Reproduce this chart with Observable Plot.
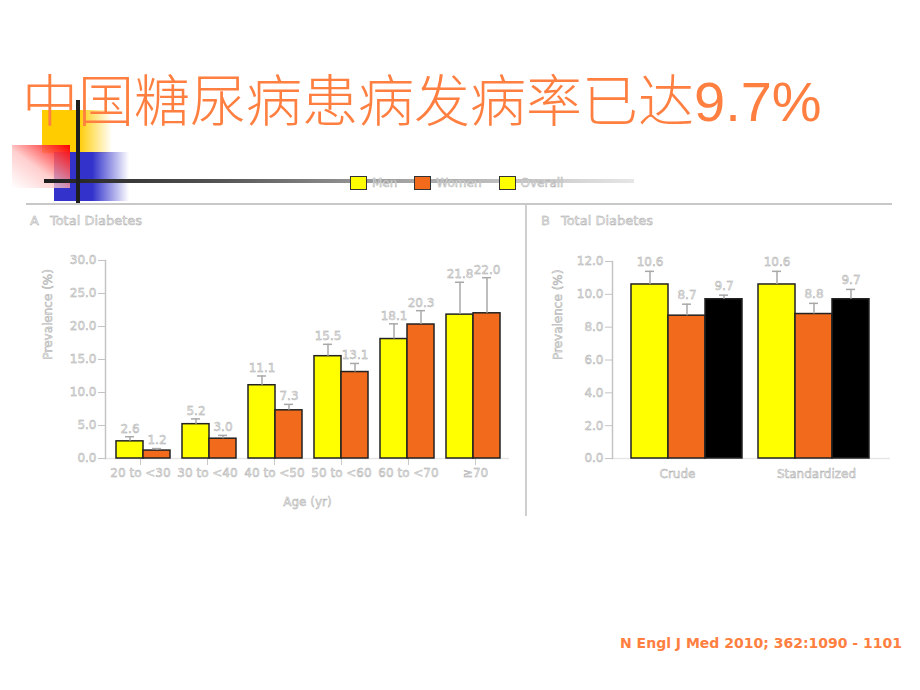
<!DOCTYPE html>
<html><head><meta charset="utf-8">
<script src="https://cdn.jsdelivr.net/npm/d3@7"></script>
<script src="https://cdn.jsdelivr.net/npm/@observablehq/plot@0.6"></script>
<style>
body{margin:0;background:#fff;}
#slide{position:relative;width:920px;height:690px;overflow:hidden;font-family:"DejaVu Sans",Verdana,sans-serif;}
.abs{position:absolute;}
.panel{position:absolute;}
.panel text{fill:#ececec;stroke:#a9a9a9;stroke-width:0.45px;}
.ghost{color:#ececec;-webkit-text-stroke:0.45px #a9a9a9;}
#title{position:absolute;left:22px;top:74px;font-size:56px;line-height:1;white-space:nowrap;color:#FF7F41;font-family:"Liberation Sans","Noto Sans CJK SC",sans-serif;font-weight:300;}
#cite{position:absolute;right:18px;top:635px;font-size:14px;font-weight:bold;color:#FF7F41;font-family:"DejaVu Sans",sans-serif;white-space:nowrap;}
#legend{position:absolute;left:350px;top:176px;display:flex;align-items:center;font-size:12px;}
#legend .item{display:flex;align-items:center;margin-right:17px;}
#legend .sw{width:15px;height:12px;border:1.5px solid #333;margin-right:5px;}
.ptitle{position:absolute;font-size:13px;line-height:16px;white-space:nowrap;}
</style></head>
<body>
<div id="slide">
  <div class="abs" style="left:42px;top:110px;width:70px;height:43px;background:linear-gradient(to right,#FFCC00 0%,#FFCC00 52%,rgba(255,255,255,0) 100%);"></div>
  <div class="abs" style="left:54px;top:152px;width:75px;height:49px;background:linear-gradient(to right,#3333CC 0%,#3333CC 51%,rgba(255,255,255,0) 100%);"></div>
  <div class="abs" style="left:12px;top:145px;width:58px;height:43px;background:linear-gradient(to bottom left,#FF0000 0%,rgba(255,190,190,0.75) 55%,rgba(255,255,255,0.9) 100%);"></div>
  <div class="abs" style="left:44px;top:179px;width:590px;height:4px;background:linear-gradient(to right,#1e1e1e 0%,#555 30%,#999 55%,#e6e6e6 100%);"></div>
  <div class="abs" style="left:76px;top:100px;width:4px;height:105px;background:#1e1e1e;"></div>
  <div class="abs" style="left:26px;top:203px;width:866px;height:2px;background:#c8c8c8;"></div>
  <div class="abs" style="left:525px;top:205px;width:2px;height:311px;background:#cfcfcf;"></div>
  <div id="title">中国糖尿病患病发病率已达9.7%</div>
  <div id="legend"></div>
  <div class="ptitle ghost" style="left:30px;top:213px;">A<span style="margin-left:11px">Total Diabetes</span></div>
  <div class="ptitle ghost" style="left:541px;top:213px;">B<span style="margin-left:11px">Total Diabetes</span></div>
  <div id="panelA"></div>
  <div id="panelB"></div>
  <div id="cite">N Engl J Med 2010; 362:1090 - 1101</div>
</div>
<script>
// ---- data ----
const ageGroups = ["20 to <30", "30 to <40", "40 to <50", "50 to <60", "60 to <70", "≥70"];
const menA = [2.6, 5.2, 11.1, 15.5, 18.1, 21.8];
const womenA = [1.2, 3.0, 7.3, 13.1, 20.3, 22.0];
const menAUpper = [3.3, 6.0, 12.5, 17.3, 20.4, 26.7];
const womenAUpper = [1.5, 3.5, 8.2, 14.4, 22.4, 27.4];
const rateTypes = ["Crude", "Standardized"];
const menB = [10.6, 10.6];
const womenB = [8.7, 8.8];
const overallB = [9.7, 9.7];
const menBUpper = [11.4, 11.4];
const womenBUpper = [9.4, 9.45];
const overallBUpper = [9.95, 10.3];
const seriesNames = ["Men", "Women", "Overall"];
const seriesColors = ["#FFFF00", "#F26A1B", "#000000"];
const legendColors = ["#FFFF00", "#F26A1B", "#FFFF00"];
const yTicksA = [0, 5, 10, 15, 20, 25, 30];
const yTicksB = [0, 2, 4, 6, 8, 10, 12];
const yLabel = "Prevalence (%)";
const xLabelA = "Age (yr)";

// legend
const leg = document.getElementById("legend");
seriesNames.forEach((s, i) => {
  const it = document.createElement("div"); it.className = "item";
  const sw = document.createElement("div"); sw.className = "sw"; sw.style.background = legendColors[i];
  const t = document.createElement("span"); t.className = "ghost"; t.textContent = s;
  it.appendChild(sw); it.appendChild(t); leg.appendChild(it);
});

const fmt = d => d.toFixed(1);
const baseStyle = {background: "transparent", fontFamily: "DejaVu Sans, sans-serif", fontSize: "12px", overflow: "visible"};

// ---- Panel A ----
const rowsA = ageGroups.flatMap((g, i) => [
  {group: g, series: "Men", value: menA[i], upper: menAUpper[i]},
  {group: g, series: "Women", value: womenA[i], upper: womenAUpper[i]}
]);
const dimA = {width: 520, height: 320, marginLeft: 105, marginRight: 11, marginTop: 60, marginBottom: 62};
const bandA = {paddingInner: 0.167, paddingOuter: 0.1};
const axesA = Plot.plot({
  ...dimA, style: baseStyle,
  x: {domain: ageGroups, ...bandA, axis: null},
  y: {domain: [0, 30], axis: null},
  marks: [
    Plot.ruleY([0], {stroke: "#e6e6e6", strokeWidth: 1.5}),
    Plot.frame({anchor: "left", stroke: "#c4c4c4", strokeWidth: 1.5}),
    Plot.axisY({ticks: yTicksA, tickFormat: fmt, tickSize: 7, tickPadding: 2, stroke: "#c4c4c4", label: null}),
    Plot.axisX({tickSize: 7, tickPadding: 3, stroke: "#c8c8c8", label: null}),
    Plot.text([yLabel], {frameAnchor: "left", rotate: -90, dx: -57, text: d => d}),
    Plot.text([xLabelA], {frameAnchor: "bottom", dy: 47, text: d => d})
  ]
});
const barsA = Plot.plot({
  ...dimA, style: baseStyle,
  fx: {domain: ageGroups, ...bandA, axis: null, label: null},
  x: {domain: ["Men", "Women"], padding: 0, axis: null},
  y: {domain: [0, 30], axis: null},
  color: {domain: seriesNames, range: seriesColors},
  marks: [
    Plot.barY(rowsA, {fx: "group", x: "series", y: "value", fill: "series", stroke: "#222", strokeWidth: 1.5}),
    Plot.ruleX(rowsA, {fx: "group", x: "series", y1: "value", y2: "upper", stroke: "#a8a8a8", strokeWidth: 1.5}),
    Plot.tickY(rowsA, {fx: "group", x: "series", y: "upper", stroke: "#a8a8a8", strokeWidth: 1.5, insetLeft: 9, insetRight: 9}),
    Plot.text(rowsA, {fx: "group", x: "series", y: "upper", text: d => fmt(d.value), dy: -8})
  ]
});
const pA = document.getElementById("panelA");
[axesA, barsA].forEach(svg => {
  const w = document.createElement("div"); w.className = "panel"; w.style.left = "0px"; w.style.top = "200px";
  w.appendChild(svg); pA.appendChild(w);
});

// ---- Panel B ----
const rowsB = rateTypes.flatMap((g, i) => [
  {group: g, series: "Men", value: menB[i], upper: menBUpper[i]},
  {group: g, series: "Women", value: womenB[i], upper: womenBUpper[i]},
  {group: g, series: "Overall", value: overallB[i], upper: overallBUpper[i]}
]);
const dimB = {width: 393, height: 320, marginLeft: 85, marginRight: 30, marginTop: 61, marginBottom: 62};
const bandB = {paddingInner: 0.123, paddingOuter: 0.15, align: 0.47};
const axesB = Plot.plot({
  ...dimB, style: baseStyle,
  x: {domain: rateTypes, ...bandB, axis: null},
  y: {domain: [0, 12], axis: null},
  marks: [
    Plot.ruleY([0], {stroke: "#e6e6e6", strokeWidth: 1.5}),
    Plot.frame({anchor: "left", stroke: "#c4c4c4", strokeWidth: 1.5}),
    Plot.axisY({ticks: yTicksB, tickFormat: fmt, tickSize: 7, tickPadding: 2, stroke: "#c4c4c4", label: null}),
    Plot.axisX({tickSize: 0, tickPadding: 11, label: null}),
    Plot.text([yLabel], {frameAnchor: "left", rotate: -90, dx: -54, text: d => d})
  ]
});
const barsB = Plot.plot({
  ...dimB, style: baseStyle,
  fx: {domain: rateTypes, ...bandB, axis: null, label: null},
  x: {domain: seriesNames, padding: 0, axis: null},
  y: {domain: [0, 12], axis: null},
  color: {domain: seriesNames, range: seriesColors},
  marks: [
    Plot.barY(rowsB, {fx: "group", x: "series", y: "value", fill: "series", stroke: "#222", strokeWidth: 1.5}),
    Plot.ruleX(rowsB, {fx: "group", x: "series", y1: "value", y2: "upper", stroke: "#a8a8a8", strokeWidth: 1.5}),
    Plot.tickY(rowsB, {fx: "group", x: "series", y: "upper", stroke: "#a8a8a8", strokeWidth: 1.5, insetLeft: 14, insetRight: 14}),
    Plot.text(rowsB, {fx: "group", x: "series", y: "upper", text: d => fmt(d.value), dy: -9})
  ]
});
const pB = document.getElementById("panelB");
[axesB, barsB].forEach(svg => {
  const w = document.createElement("div"); w.className = "panel"; w.style.left = "527px"; w.style.top = "200px";
  w.appendChild(svg); pB.appendChild(w);
});
</script>
</body></html>
